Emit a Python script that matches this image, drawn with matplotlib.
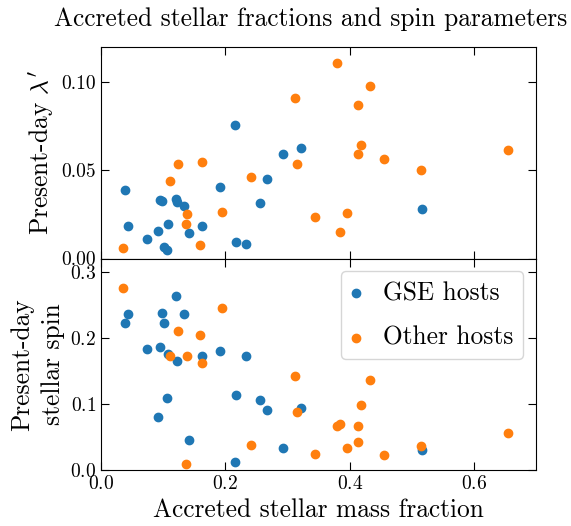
import numpy as np
import matplotlib
matplotlib.use("Agg")
import matplotlib.pyplot as plt

plt.rcParams['font.family'] = 'serif'
plt.rcParams['font.serif'] = ['cmr10']
plt.rcParams['mathtext.fontset'] = 'cm'
plt.rcParams['axes.formatter.use_mathtext'] = True
plt.rcParams['axes.unicode_minus'] = False

# GSE hosts
gse_frac = [0.039, 0.044, 0.074, 0.092, 0.095, 0.098, 0.102, 0.106, 0.107, 0.121, 0.122,
            0.134, 0.141, 0.163, 0.192, 0.215, 0.217, 0.233, 0.256, 0.267, 0.292, 0.322, 0.517]
gse_lambda = [0.039, 0.0187, 0.011, 0.0156, 0.0334, 0.0326, 0.0064, 0.0049, 0.0196, 0.0337, 0.032,
              0.0298, 0.0143, 0.0183, 0.0408, 0.0755, 0.0096, 0.0085, 0.0317, 0.0453, 0.0595, 0.0628, 0.0279]
gse_spin = [0.222, 0.236, 0.183, 0.080, 0.186, 0.237, 0.223, 0.109, 0.175, 0.263, 0.165,
            0.236, 0.045, 0.172, 0.180, 0.0118, 0.1135, 0.173, 0.1055, 0.091, 0.033, 0.094, 0.031]

# other hosts
oth_frac = [0.036, 0.111, 0.123, 0.137, 0.139, 0.159, 0.163, 0.195, 0.241, 0.312, 0.316,
            0.344, 0.379, 0.384, 0.396, 0.413, 0.413, 0.418, 0.432, 0.455, 0.515, 0.655]
oth_lambda = [0.0058, 0.0438, 0.0534, 0.0193, 0.0253, 0.0075, 0.0549, 0.0262, 0.0462, 0.0908, 0.0538,
              0.0238, 0.1108, 0.0149, 0.0258, 0.087, 0.0592, 0.0646, 0.098, 0.0564, 0.0504, 0.0613]
oth_spin = [0.275, 0.173, 0.210, 0.010, 0.173, 0.205, 0.162, 0.245, 0.038, 0.143, 0.088,
            0.025, 0.067, 0.070, 0.033, 0.067, 0.043, 0.0985, 0.136, 0.023, 0.036, 0.056]

fig, (ax1, ax2) = plt.subplots(2, 1, sharex=True, figsize=(5.71, 5.26), dpi=100)
plt.subplots_adjust(left=0.177, right=0.939, top=0.911, bottom=0.106, hspace=0)

ax1.scatter(gse_frac, gse_lambda, color='C0', zorder=3)
ax1.scatter(oth_frac, oth_lambda, color='C1', zorder=3)
ax2.scatter(gse_frac, gse_spin, color='C0', label='GSE hosts', zorder=3)
ax2.scatter(oth_frac, oth_spin, color='C1', label='Other hosts', zorder=3)

ax1.set_ylim(0, 0.12)
ax1.set_yticks([0, 0.05, 0.10])
ax1.set_yticklabels(['0.00', '0.05', '0.10'])
ax2.set_ylim(0, 0.32)
ax2.set_yticks([0, 0.1, 0.2, 0.3])
ax2.set_xlim(0, 0.7)
ax2.set_xticks([0, 0.2, 0.4, 0.6])

for ax in (ax1, ax2):
    ax.tick_params(direction='in', top=True, right=True, length=6, labelsize=14)

fs = 18.3
ax1.set_title('Accreted stellar fractions and spin parameters', fontsize=fs, x=0.482, pad=15)
ax1.set_ylabel("Present-day $\\lambda'$", fontsize=fs)
ax2.set_ylabel('Present-day\nstellar spin', fontsize=fs, linespacing=1.35)
ax2.set_xlabel('Accreted stellar mass fraction', fontsize=fs)
ax2.legend(loc='upper right', fontsize=fs, handlelength=0.4, handletextpad=0.85,
           labelspacing=0.8)

fig.savefig('out.png', dpi=100)
